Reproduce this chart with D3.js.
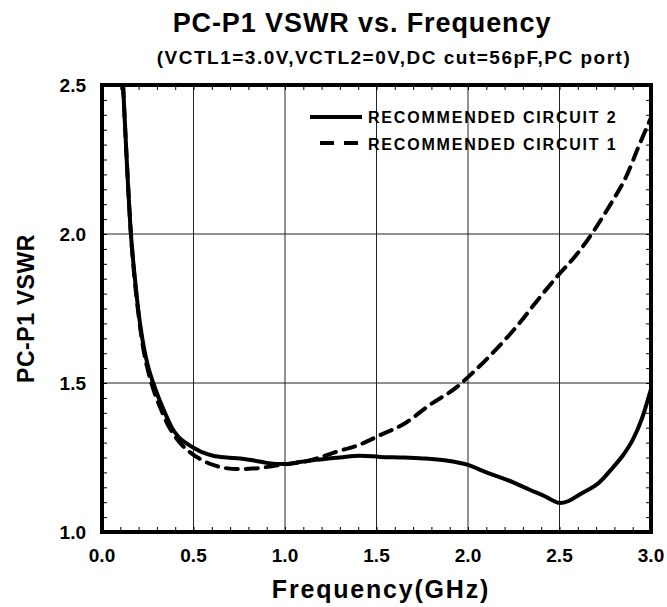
<!DOCTYPE html>
<html>
<head>
<meta charset="utf-8">
<script src="https://cdn.jsdelivr.net/npm/d3@7"></script>
<style>
  html, body { margin: 0; padding: 0; background: #fff; }
  svg { display: block; font-family: "Liberation Sans", Arial, Helvetica, sans-serif; }
</style>
</head>
<body>
<svg id="chart" width="667" height="607"></svg>
<script>
// Measured VSWR, RECOMMENDED CIRCUIT 2 (solid)
const freq2 = [0.115, 0.135, 0.158, 0.175, 0.19, 0.21, 0.23, 0.25, 0.28, 0.31, 0.344, 0.38, 0.42, 0.46, 0.50, 0.55, 0.607, 0.68, 0.754, 0.83, 0.90, 1.00, 1.08, 1.17, 1.30, 1.41, 1.52, 1.65, 1.754, 1.88, 2.00, 2.10, 2.213, 2.34, 2.42, 2.466, 2.50, 2.55, 2.61, 2.72, 2.79, 2.85, 2.90, 2.95, 3.00];
const vswr2 = [2.50, 2.25, 2.00, 1.88, 1.79, 1.69, 1.615, 1.56, 1.50, 1.45, 1.40, 1.352, 1.318, 1.298, 1.283, 1.267, 1.256, 1.25, 1.247, 1.24, 1.232, 1.228, 1.235, 1.242, 1.25, 1.256, 1.252, 1.25, 1.247, 1.24, 1.225, 1.20, 1.175, 1.141, 1.12, 1.105, 1.097, 1.104, 1.126, 1.168, 1.215, 1.26, 1.309, 1.38, 1.48];

// Measured VSWR, RECOMMENDED CIRCUIT 1 (dashed)
const freq1 = [0.115, 0.135, 0.158, 0.175, 0.19, 0.21, 0.23, 0.25, 0.28, 0.32, 0.36, 0.40, 0.44, 0.48, 0.55, 0.607, 0.67, 0.74, 0.80, 0.863, 0.92, 0.973, 1.04, 1.10, 1.18, 1.26, 1.33, 1.39, 1.52, 1.656, 1.79, 1.94, 2.03, 2.16, 2.28, 2.38, 2.485, 2.60, 2.69, 2.776, 2.87, 2.93, 3.00];
const vswr1 = [2.50, 2.25, 2.00, 1.87, 1.78, 1.68, 1.60, 1.545, 1.48, 1.415, 1.36, 1.32, 1.29, 1.268, 1.24, 1.225, 1.215, 1.211, 1.212, 1.215, 1.22, 1.225, 1.23, 1.235, 1.248, 1.265, 1.278, 1.289, 1.325, 1.365, 1.426, 1.487, 1.537, 1.617, 1.70, 1.778, 1.856, 1.936, 2.013, 2.097, 2.20, 2.29, 2.39];

// Axis ticks
const xTicks = [0.0, 0.5, 1.0, 1.5, 2.0, 2.5, 3.0];
const yTicks = [1.0, 1.5, 2.0, 2.5];
const legendLabels = ["RECOMMENDED CIRCUIT 2", "RECOMMENDED CIRCUIT 1"];

const svg = d3.select("#chart");
const plot = { left: 102, right: 651, top: 85, bottom: 532 };

const x = d3.scaleLinear().domain([0, 3]).range([plot.left, plot.right]);
const y = d3.scaleLinear().domain([1, 2.5]).range([plot.bottom, plot.top]);

// Title block
svg.append("text")
  .attr("x", 362).attr("y", 32)
  .attr("text-anchor", "middle")
  .attr("font-size", 27).attr("font-weight", "bold")
  .attr("letter-spacing", 0.9)
  .text("PC-P1 VSWR vs. Frequency");
svg.append("text")
  .attr("x", 394).attr("y", 64)
  .attr("text-anchor", "middle")
  .attr("font-size", 19).attr("font-weight", "bold")
  .attr("letter-spacing", 1.5)
  .text("(VCTL1=3.0V,VCTL2=0V,DC cut=56pF,PC port)");

// Grid lines
const grid = svg.append("g").attr("stroke", "#222").attr("stroke-width", 1);
grid.selectAll("line.vx").data(xTicks.filter(d => d > 0 && d < 3)).join("line")
  .attr("x1", d => x(d)).attr("x2", d => x(d))
  .attr("y1", plot.top).attr("y2", plot.bottom);
grid.selectAll("line.hy").data(yTicks.filter(d => d > 1 && d < 2.5)).join("line")
  .attr("x1", plot.left).attr("x2", plot.right)
  .attr("y1", d => y(d)).attr("y2", d => y(d));

// Minor ticks on all four sides, pointing inward
const xMinor = d3.range(0, 31).map(i => i / 10);
const yMinor = d3.range(0, 31).map(i => 1 + i / 20);
const bottomAxis = svg.append("g").attr("transform", `translate(0,${plot.bottom})`)
  .call(d3.axisBottom(x).tickValues(xMinor).tickSize(-5).tickFormat(""));
const topAxis = svg.append("g").attr("transform", `translate(0,${plot.top})`)
  .call(d3.axisTop(x).tickValues(xMinor).tickSize(-5).tickFormat(""));
const leftAxis = svg.append("g").attr("transform", `translate(${plot.left},0)`)
  .call(d3.axisLeft(y).tickValues(yMinor).tickSize(-5).tickFormat(""));
const rightAxis = svg.append("g").attr("transform", `translate(${plot.right},0)`)
  .call(d3.axisRight(y).tickValues(yMinor).tickSize(-5).tickFormat(""));
[bottomAxis, topAxis, leftAxis, rightAxis].forEach(g => {
  g.select(".domain").remove();
  g.selectAll(".tick line").attr("stroke", "#000").attr("stroke-width", 1);
});

// Tick labels
svg.append("g").selectAll("text").data(xTicks).join("text")
  .attr("x", d => x(d)).attr("y", 562)
  .attr("text-anchor", "middle")
  .attr("font-size", 19).attr("font-weight", "bold")
  .text(d => d.toFixed(1));
svg.append("g").selectAll("text").data(yTicks).join("text")
  .attr("x", 86).attr("y", d => y(d) + 7)
  .attr("text-anchor", "end")
  .attr("font-size", 19).attr("font-weight", "bold")
  .text(d => d.toFixed(1));

// Axis titles
svg.append("text")
  .attr("x", 381).attr("y", 598)
  .attr("text-anchor", "middle")
  .attr("font-size", 25).attr("font-weight", "bold")
  .attr("letter-spacing", 1.8)
  .text("Frequency(GHz)");
svg.append("text")
  .attr("transform", `translate(34,${(plot.top + plot.bottom) / 2}) rotate(-90)`)
  .attr("text-anchor", "middle")
  .attr("font-size", 23).attr("font-weight", "bold")
  .attr("letter-spacing", 0.6)
  .text("PC-P1 VSWR");

// Curves
svg.append("clipPath").attr("id", "plotClip").append("rect")
  .attr("x", plot.left).attr("y", plot.top)
  .attr("width", plot.right - plot.left).attr("height", plot.bottom - plot.top);
const line = d3.line().x(d => x(d[0])).y(d => y(d[1])).curve(d3.curveMonotoneX);
const curves = svg.append("g").attr("clip-path", "url(#plotClip)");
curves.append("path")
  .datum(d3.zip(freq1, vswr1))
  .attr("fill", "none").attr("stroke", "#000").attr("stroke-width", 4)
  .attr("stroke-dasharray", "12,8").attr("stroke-linecap", "round")
  .attr("d", line);
curves.append("path")
  .datum(d3.zip(freq2, vswr2))
  .attr("fill", "none").attr("stroke", "#000").attr("stroke-width", 4)
  .attr("d", line);

// Legend
const legend = svg.append("g");
legend.append("line")
  .attr("x1", 310).attr("x2", 362).attr("y1", 117).attr("y2", 117)
  .attr("stroke", "#000").attr("stroke-width", 4);
legend.append("line")
  .attr("x1", 320).attr("x2", 360).attr("y1", 143).attr("y2", 143)
  .attr("stroke", "#000").attr("stroke-width", 4).attr("stroke-dasharray", "14,10");
legend.selectAll("text").data(legendLabels).join("text")
  .attr("x", 368).attr("y", (d, i) => 123 + i * 27)
  .attr("font-size", 16).attr("font-weight", "bold")
  .attr("letter-spacing", 1.8)
  .text(d => d);

// Frame
svg.append("rect")
  .attr("x", plot.left).attr("y", plot.top)
  .attr("width", plot.right - plot.left).attr("height", plot.bottom - plot.top)
  .attr("fill", "none").attr("stroke", "#000").attr("stroke-width", 4);
</script>
</body>
</html>
